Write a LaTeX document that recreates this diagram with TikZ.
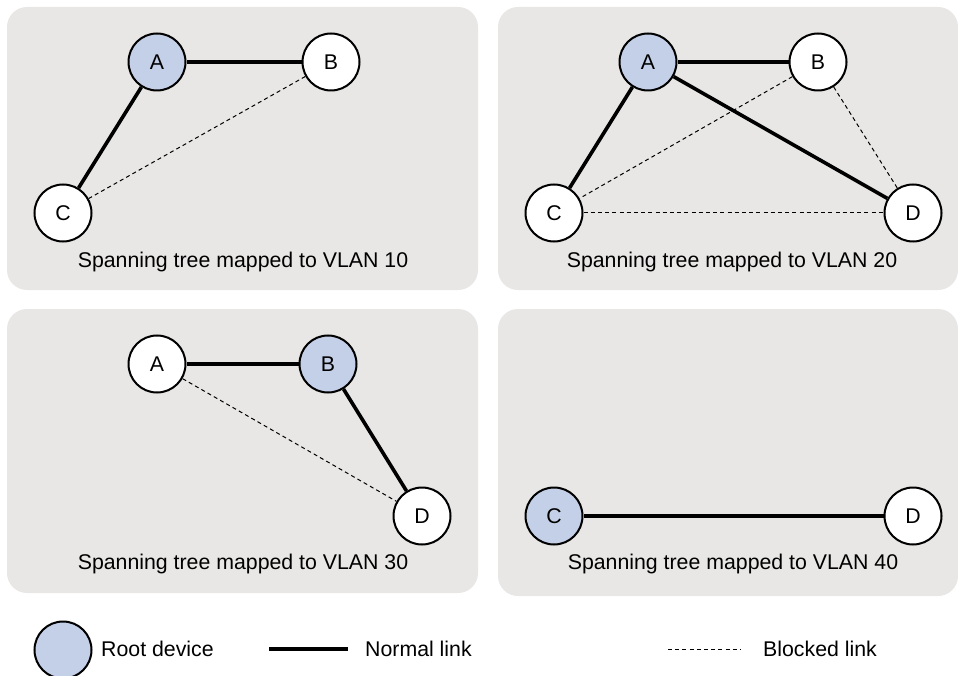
\documentclass[tikz,border=0pt]{standalone}
\usepackage{fontspec}
\setmainfont{Liberation Sans}
\definecolor{panelgray}{HTML}{E8E7E5}
\definecolor{rootblue}{HTML}{C3D0E7}
\tikzset{
  panel/.style={fill=panelgray, draw=none, rounded corners=20pt},
  dev/.style={circle, draw=black, line width=2pt, fill=white, minimum size=57pt, inner sep=0pt, font=\fontsize{21.3pt}{24pt}\selectfont},
  rootdev/.style={dev, fill=rootblue},
  normal/.style={line width=3.6pt},
  blocked/.style={line width=1pt, dash pattern=on 4pt off 3.2pt},
  caption/.style={font=\fontsize{21.3pt}{24pt}\selectfont, inner sep=0pt}
}
\begin{document}
\begin{tikzpicture}[x=1pt,y=-1pt]
\useasboundingbox (0,0) rectangle (958,676);
% panels
\fill[panel] (7,7) rectangle (478,290);
\fill[panel] (498,7) rectangle (958,290);
\fill[panel] (7,309) rectangle (478,593);
\fill[panel] (498,309) rectangle (958,596);
% panel 1
\node[rootdev] (a1) at (157,62) {A};
\node[dev] (b1) at (331,62) {B};
\node[dev] (c1) at (63,213) {C};
\draw[normal] (a1) -- (b1);
\draw[normal] (a1) -- (c1);
\draw[blocked] (b1) -- (c1);
\node[caption] (t1) at (243,262) {Spanning tree mapped to VLAN 10};
% panel 2
\node[rootdev] (a2) at (648,62) {A};
\node[dev] (b2) at (818,62) {B};
\node[dev] (c2) at (554,213) {C};
\node[dev] (d2) at (913,213) {D};
\draw[normal] (a2) -- (b2);
\draw[normal] (a2) -- (c2);
\draw[normal] (a2) -- (d2);
\draw[blocked] (b2) -- (c2);
\draw[blocked] (b2) -- (d2);
\draw[blocked] (c2) -- (d2);
\node[caption] (t2) at (732,262) {Spanning tree mapped to VLAN 20};
% panel 3
\node[dev] (a3) at (157,364) {A};
\node[rootdev] (b3) at (328,364) {B};
\node[dev] (d3) at (422,516) {D};
\draw[normal] (a3) -- (b3);
\draw[normal] (b3) -- (d3);
\draw[blocked] (a3) -- (d3);
\node[caption] (t3) at (243,564) {Spanning tree mapped to VLAN 30};
% panel 4
\node[rootdev] (c4) at (554,516) {C};
\node[dev] (d4) at (913,516) {D};
\draw[normal] (c4) -- (d4);
\node[caption] (t4) at (733,564) {Spanning tree mapped to VLAN 40};
% legend
\node[rootdev] (lr) at (63,650) {};
\node[caption, anchor=west] (lrt) at (101,649) {Root device};
\coordinate (ln1) at (269,649);
\coordinate (ln2) at (348,649);
\draw[normal, line width=4pt] (ln1) -- (ln2);
\node[caption, anchor=west] (lnt) at (365,649) {Normal link};
\coordinate (lb1) at (668,649);
\coordinate (lb2) at (741,649);
\draw[blocked] (lb1) -- (lb2);
\node[caption, anchor=west] (lbt) at (763,649) {Blocked link};
\end{tikzpicture}
\end{document}
